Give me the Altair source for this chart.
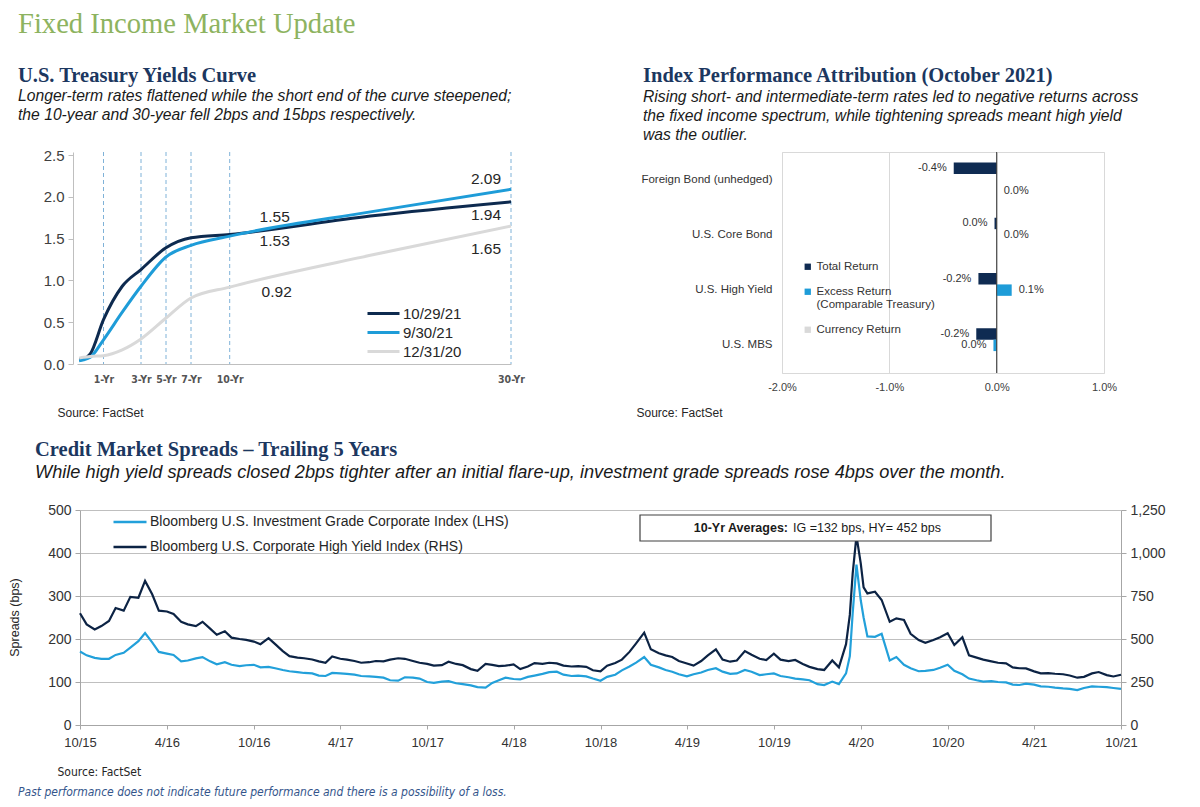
import altair as alt
import pandas as pd

# ================= U.S. Treasury yield curve =================
maturity_years = [0.08, 0.25, 0.5, 1, 2, 3, 5, 7, 10, 20, 30]
yields_oct29_21 = [0.05, 0.06, 0.12, 0.53, 0.93, 1.13, 1.39, 1.51, 1.55, 1.77, 1.94]
yields_sep30_21 = [0.04, 0.05, 0.08, 0.29, 0.62, 0.93, 1.28, 1.42, 1.53, 1.82, 2.09]
yields_dec31_20 = [0.07, 0.08, 0.09, 0.10, 0.17, 0.30, 0.55, 0.79, 0.92, 1.30, 1.65]
curve_names = ["10/29/21", "9/30/21", "12/31/20"]
curve_colors = ["#0d2a4f", "#1e9cd8", "#d9d9d9"]
tenor_ticks = [1, 3, 5, 7, 10, 30]
tenor_labels = ["1-Yr", "3-Yr", "5-Yr", "7-Yr", "10-Yr", "30-Yr"]
yield_ticks = [0.0, 0.5, 1.0, 1.5, 2.0, 2.5]
curve_label_points = [("10/29/21", 10), ("9/30/21", 10), ("12/31/20", 10),
                      ("9/30/21", 30), ("10/29/21", 30), ("12/31/20", 30)]
curve_label_nudges = [(45, -17), (45, 5), (47, 5), (-25, -10), (-25, 13), (-25, 23)]

# ================= Index performance attribution =================
attr_categories = ["Foreign Bond (unhedged)", "U.S. Core Bond", "U.S. High Yield", "U.S. MBS"]
attr_series = ["Total Return", "Excess Return (Comparable Treasury)", "Currency Return"]
attr_colors = ["#0f2b52", "#1e9cd8", "#d9d9d9"]
total_return = [-0.40, -0.02, -0.17, -0.19]
excess_return = [None, 0.00, 0.14, -0.03]
currency_return = [0.00, None, None, None]
attr_ticks = [-2.0, -1.0, 0.0, 1.0]

# ================= Credit spreads (semi-monthly, Oct-2015 .. Oct-2021) =================
IG_NAME = "Bloomberg U.S. Investment Grade Corporate Index (LHS)"
HY_NAME = "Bloomberg U.S. Corporate High Yield Index (RHS)"
ig_bps = [
    171, 162, 156, 154, 154, 163, 168, 180, 195, 214, 192, 170, 166, 163, 148, 150, 155, 158, 148, 141, 146, 140, 137, 139,
    140, 134, 135, 132, 128, 125, 123, 121, 120, 115, 114, 121, 120, 119, 117, 114, 113, 112, 110, 104, 103, 111, 110, 108,
    100, 98, 101, 102, 97, 95, 92, 88, 87, 98, 104, 110, 107, 106, 112, 115, 119, 123, 124, 117, 114, 115, 113, 108,
    103, 112, 117, 127, 136, 145, 158, 140, 134, 128, 124, 118, 113, 118, 122, 128, 132, 124, 119, 120, 128, 124, 116, 118,
    120, 114, 111, 108, 106, 104, 95, 93, 101, 95, 120, 260, 290, 206, 205, 212, 150, 158, 140, 132, 125, 126, 128, 133,
    140, 126, 118, 108, 104, 101, 102, 100, 99, 94, 93, 96, 94, 90, 89, 87, 85, 84, 81, 86, 90, 89, 88, 86,
    84,
]
hy_bps = [
    650, 585, 555, 575, 605, 680, 665, 745, 740, 838, 760, 665, 660, 645, 600, 585, 575, 600, 560, 525, 545, 508, 500, 495,
    485, 470, 505, 470, 430, 400, 392, 388, 381, 370, 362, 398, 385, 380, 372, 362, 365, 372, 370, 380, 388, 385, 372, 362,
    355, 345, 348, 368, 355, 348, 325, 315, 355, 350, 342, 345, 352, 325, 340, 360, 355, 362, 358, 345, 340, 342, 338, 318,
    312, 345, 360, 380, 425, 475, 537, 440, 417, 405, 395, 372, 358, 345, 372, 405, 440, 380, 368, 375, 430, 408, 385, 378,
    415, 380, 372, 378, 355, 338, 325, 320, 375, 335, 470, 880, 940, 765, 775, 727, 600, 620, 611, 530, 494, 478, 494, 510,
    533, 465, 510, 405, 392, 380, 370, 362, 358, 335, 330, 329, 312, 300, 302, 298, 295, 288, 275, 280, 300, 308, 290, 282,
    292,
]
covid_dates = ["2020-03-09", "2020-03-23", "2020-04-07"]
covid_ig_bps = [160, 373, 250]
covid_hy_bps = [640, 1100, 800]
spread_ticks = ["2015-10", "2016-04", "2016-10", "2017-04", "2017-10", "2018-04", "2018-10",
                "2019-04", "2019-10", "2020-04", "2020-10", "2021-04", "2021-10"]
ig_left_ticks = [0, 100, 200, 300, 400, 500]
hy_right_ticks = [0, 250, 500, 750, 1000, 1250]
avg_label_bold = "10-Yr Averages:"
avg_label_rest = "IG =132 bps, HY= 452 bps"
disclaimer = "Past performance does not indicate future performance and there is a possibility of a loss."

SANS = "Liberation Sans"
NARROW = "Liberation Sans Narrow, DejaVu Sans Condensed, Liberation Sans"
SERIF = "Liberation Serif"
NAVY_T = "#1c3760"

# ---------------- tables ----------------
curve_rows = []
for name, vals in zip(curve_names, [yields_oct29_21, yields_sep30_21, yields_dec31_20]):
    for m, v in zip(maturity_years, vals):
        curve_rows.append({"curve": name, "maturity": m, "yield": v})
curve_df = pd.DataFrame(curve_rows)
tenor_df = pd.DataFrame({"tenor": tenor_ticks})


def pct_label(v):
    r = round(v, 1)
    if r == 0:
        r = 0.0
    return f"{r:.1f}%"


attr_rows = []
for s, vals in zip(attr_series, [total_return, excess_return, currency_return]):
    for c, v in zip(attr_categories, vals):
        if v is not None:
            attr_rows.append({"category": c, "series": s, "value": v,
                              "label": pct_label(v), "neg": v < 0})
attr_df = pd.DataFrame(attr_rows)

dates = []
for k in range(len(ig_bps)):
    mi = 9 + k // 2
    dates.append(f"{2015 + mi // 12}-{mi % 12 + 1:02d}-{'01' if k % 2 == 0 else '15'}")
all_dates = dates + covid_dates
spread_df = pd.concat([
    pd.DataFrame({"date": all_dates, "bps": ig_bps + covid_ig_bps, "series": IG_NAME}),
    pd.DataFrame({"date": all_dates, "bps": hy_bps + covid_hy_bps, "series": HY_NAME}),
]).sort_values(["series", "date"]).reset_index(drop=True)
one = pd.DataFrame({"k": [0]})

SUB_SIZE = 15.7
TITLE_SIZE = 20.5

# ================= Chart A =================
xs_curve = alt.Scale(domain=[0, 1, 3, 5, 7, 10, 30], range=[4, 30.5, 68, 93, 118, 156.7, 438],
                     nice=False, zero=False)
ys_curve = alt.Scale(domain=[0, 2.536], nice=False, zero=False)
tenor_expr = " : ".join([f"datum.value == {t} ? '{l}'" for t, l in zip(tenor_ticks, tenor_labels)]) + " : ''"
x_curve_axis = alt.Axis(values=tenor_ticks, labelExpr=tenor_expr, grid=False, ticks=False, tickSize=0,
                        labelFlush=False, domainColor="#bfbfbf", labelFont=NARROW, labelFontSize=10.5,
                        labelFontWeight="bold", labelColor="#555555", labelPadding=10,
                        title="Source: FactSet", titleX=-16, titleY=48, titleAlign="left", titleBaseline="middle",
                        titleFont=SANS, titleFontSize=12, titleFontWeight="normal", titleColor="#262626")
y_curve_axis = alt.Axis(values=yield_ticks, labelExpr="format(datum.value, '.1f')", grid=False, tickSize=5,
                        tickColor="#bfbfbf", domainColor="#bfbfbf", labelFontSize=15, labelColor="#404040",
                        labelPadding=4, title=None)
X_A = alt.X("maturity:Q", scale=xs_curve, axis=x_curve_axis)
Y_A = alt.Y("yield:Q", scale=ys_curve, axis=y_curve_axis)

rules_a = alt.Chart(tenor_df).mark_rule(color="#7fb2d8", strokeDash=[4, 3], strokeWidth=1).encode(
    x=alt.X("tenor:Q", scale=xs_curve, axis=x_curve_axis))
lines_a = alt.Chart(curve_df).mark_line(strokeWidth=3, interpolate="monotone").encode(
    x=X_A, y=Y_A,
    color=alt.Color("curve:N", scale=alt.Scale(domain=curve_names, range=curve_colors),
                    legend=alt.Legend(orient="none", legendX=293, legendY=152, title=None,
                                      symbolType="stroke", symbolSize=1024, symbolStrokeWidth=3,
                                      labelFontSize=15, labelColor="#262626", labelOffset=2,
                                      clipHeight=19, rowPadding=0, padding=0)),
    order=alt.Order("maturity:Q"))
label_layers = []
for (name, ten), (dx, dy) in zip(curve_label_points, curve_label_nudges):
    sub = curve_df[(curve_df.curve == name) & (curve_df.maturity == ten)].copy()
    sub["txt"] = sub["yield"].map(lambda v: f"{v:.2f}")
    label_layers.append(
        alt.Chart(sub).mark_text(dx=dx, dy=dy, fontSize=15.5, color="#262626", align="center",
                                 baseline="middle").encode(x=X_A, y=Y_A, text="txt:N"))

title_a = alt.TitleParams(
    "U.S. Treasury Yields Curve",
    subtitle=["Longer-term rates flattened while the short end of the curve steepened;",
              "the 10-year and 30-year fell 2bps and 15bps respectively."],
    anchor="start", frame="group", dx=-55, offset=25, font=SERIF, fontSize=TITLE_SIZE, fontWeight="bold",
    color=NAVY_T, subtitleFont=SANS, subtitleFontSize=SUB_SIZE, subtitleFontStyle="italic",
    subtitleColor="#1a1a1a", subtitlePadding=3, subtitleLineHeight=19)
chart_a = alt.layer(rules_a, lines_a, *label_layers).properties(width=438, height=212, title=title_a)

# ================= Chart B =================
xs_attr = alt.Scale(domain=[-2, 1], nice=False, zero=False)
x_attr_axis = alt.Axis(values=attr_ticks, grid=True, gridColor="#d9d9d9", ticks=False, tickSize=0, domain=False,
                       labelFlush=False,
                       labelExpr="(datum.value < 0 ? '-' : '') + format(abs(datum.value), '.1f') + '%'",
                       labelFontSize=11, labelColor="#404040", labelPadding=8,
                       title="Source: FactSet", titleX=-146, titleY=39, titleAlign="left", titleBaseline="middle",
                       titleFont=SANS, titleFontSize=12, titleFontWeight="normal", titleColor="#262626")
X_B = alt.X("value:Q", scale=xs_attr, axis=x_attr_axis)
Y_B = alt.Y("category:N", sort=attr_categories,
            scale=alt.Scale(domain=attr_categories, paddingInner=0.38, paddingOuter=0.19),
            axis=alt.Axis(title=None, ticks=False, domain=False, labelFontSize=11.5, labelColor="#333333",
                          labelPadding=10, labelLimit=200))
YO_B = alt.YOffset("series:N", sort=attr_series,
                   scale=alt.Scale(domain=attr_series, paddingInner=0, paddingOuter=0))

bars_b = alt.Chart(attr_df).mark_bar().encode(
    x=X_B, y=Y_B, yOffset=YO_B,
    color=alt.Color("series:N", scale=alt.Scale(domain=attr_series, range=attr_colors),
                    legend=alt.Legend(orient="none", legendX=20, legendY=109, title=None,
                                      symbolType="square", symbolSize=40, symbolStrokeWidth=0,
                                      labelFontSize=11.5, labelColor="#333333", labelOffset=3,
                                      rowPadding=12, padding=0,
                                      labelExpr="datum.label == 'Excess Return (Comparable Treasury)' ? "
                                                "['Excess Return', '(Comparable Treasury)'] : datum.label")))
zero_b = alt.Chart(one).mark_rule(color="#3a3a3a", strokeWidth=1).encode(x=alt.datum(0))
neg_txt = alt.Chart(attr_df).transform_filter("datum.neg").mark_text(
    align="right", baseline="middle", dx=-7, fontSize=11, color="#333333").encode(
    x=X_B, y=Y_B, yOffset=YO_B, text="label:N")
pos_txt = alt.Chart(attr_df).transform_filter("!datum.neg").mark_text(
    align="left", baseline="middle", dx=7, fontSize=11, color="#333333").encode(
    x=X_B, y=Y_B, yOffset=YO_B, text="label:N")
title_b = alt.TitleParams(
    "Index Performance Attribution (October 2021)",
    subtitle=["Rising short- and intermediate-term rates led to negative returns across",
              "the fixed income spectrum, while tightening spreads meant high yield",
              "was the outlier."],
    anchor="start", frame="group", dx=-139, offset=9, font=SERIF, fontSize=TITLE_SIZE, fontWeight="bold",
    color=NAVY_T, subtitleFont=SANS, subtitleFontSize=SUB_SIZE, subtitleFontStyle="italic",
    subtitleColor="#1a1a1a", subtitlePadding=3, subtitleLineHeight=19)
chart_b = alt.layer(bars_b, zero_b, neg_txt, pos_txt).properties(
    width=322, height=221, title=title_b, view=alt.ViewBackground(stroke="#d9d9d9", strokeWidth=1))

# ================= Chart C =================
x_spread = alt.X("date:T",
                 scale=alt.Scale(type="utc", domain=[alt.DateTime(year=2015, month=10, date=1, utc=True),
                                                     alt.DateTime(year=2021, month=10, date=1, utc=True)],
                                 nice=False),
                 axis=alt.Axis(values=[alt.DateTime(year=int(t[:4]), month=int(t[5:]), date=1, utc=True)
                                       for t in spread_ticks],
                               labelExpr="utcFormat(datum.value, '%-m/%y')", grid=False, tickSize=4,
                               labelFlush=False, tickColor="#a6a6a6", domainColor="#a6a6a6", labelFontSize=13,
                               labelColor="#333333", labelPadding=7,
                               title="Source: FactSet", titleX=-23, titleY=46, titleAlign="left",
                               titleBaseline="middle", titleFont=NARROW, titleFontSize=12,
                               titleFontWeight="normal", titleColor="#262626"))
color_c = alt.Color("series:N", scale=alt.Scale(domain=[IG_NAME, HY_NAME], range=["#22a0da", "#0c2344"]),
                    legend=alt.Legend(orient="none", legendX=32, legendY=-6, title=None,
                                      symbolType="stroke", symbolSize=1089, symbolStrokeWidth=2.5,
                                      labelFontSize=14, labelColor="#262626", labelOffset=2,
                                      rowPadding=-3, padding=0, labelLimit=500))
hy_line = alt.Chart(spread_df).transform_filter(alt.datum.series == HY_NAME).mark_line(strokeWidth=2.2).encode(
    x=x_spread,
    y=alt.Y("bps:Q", scale=alt.Scale(domain=[0, 1250], nice=False),
            axis=alt.Axis(orient="right", values=hy_right_ticks, labelExpr="format(datum.value, ',')",
                          grid=False, tickSize=5, tickColor="#a6a6a6", domainColor="#a6a6a6", labelFontSize=14,
                          labelColor="#333333", labelPadding=4, title=None)),
    color=color_c)
ig_line = alt.Chart(spread_df).transform_filter(alt.datum.series == IG_NAME).mark_line(strokeWidth=2.2).encode(
    x=x_spread,
    y=alt.Y("bps:Q", scale=alt.Scale(domain=[0, 500], nice=False),
            axis=alt.Axis(orient="left", values=ig_left_ticks, labelExpr="format(datum.value, 'd')",
                          grid=True, gridColor="#bfbfbf", tickSize=5,
                          tickColor="#a6a6a6", domainColor="#a6a6a6", labelFontSize=14,
                          labelColor="#333333", labelPadding=4,
                          title="Spreads (bps)", titleX=-66, titleY=107, titleAngle=-90, titleAlign="center",
                          titleBaseline="middle", titleFontSize=12.5, titleFontWeight="normal",
                          titleColor="#262626")),
    color=color_c)
box_c = alt.Chart(one).mark_rect(fill="white", stroke="#404040", strokeWidth=1.2).encode(
    x=alt.value(560), x2=alt.value(911), y=alt.value(5), y2=alt.value(31))
box_bold = alt.Chart(one).mark_text(text=avg_label_bold, align="right", baseline="middle", fontWeight="bold",
                                    fontSize=12.5, color="#1a1a1a").encode(x=alt.value(708), y=alt.value(18))
box_rest = alt.Chart(one).mark_text(text=avg_label_rest, align="left", baseline="middle",
                                    fontSize=12.5, color="#1a1a1a").encode(x=alt.value(713), y=alt.value(18))
disc = alt.Chart(one).mark_text(text=disclaimer, align="left", baseline="middle", fontStyle="italic",
                                font=NARROW, fontSize=12, color="#34558b").encode(x=alt.value(-62), y=alt.value(282))
title_c = alt.TitleParams(
    "Credit Market Spreads \u2013 Trailing 5 Years",
    subtitle=["While high yield spreads closed 2bps tighter after an initial flare-up, "
              "investment grade spreads rose 4bps over the month."],
    anchor="start", frame="group", dx=-45, offset=22, font=SERIF, fontSize=TITLE_SIZE, fontWeight="bold",
    color=NAVY_T, subtitleFont=SANS, subtitleFontSize=18.2, subtitleFontStyle="italic",
    subtitleColor="#1a1a1a", subtitlePadding=3, subtitleLineHeight=19)
chart_c = alt.layer(hy_line, ig_line, box_c, box_bold, box_rest, disc).resolve_scale(
    y="independent").properties(width=1041, height=215, title=title_c)

spacer = alt.Chart(one).mark_point(opacity=0).properties(width=7, height=215)

main_title = alt.TitleParams("Fixed Income Market Update", anchor="start", frame="group", dx=-55, offset=27,
                             font=SERIF, fontSize=28.6, fontWeight="normal", color="#8db360")

bottom_row = alt.hconcat(spacer, chart_c, spacing=0, bounds="flush").resolve_scale(color="independent")
left_col = alt.vconcat(chart_a, bottom_row, spacing=146, bounds="flush").resolve_scale(color="independent")
chart = alt.hconcat(left_col, chart_b, spacing=709, bounds="flush").resolve_scale(color="independent").properties(
    title=main_title, padding={"left": 0, "top": 2, "right": 6, "bottom": 6})
chart = chart.configure(font=SANS).configure_view(stroke=None)

chart.save("out.html", embed_options={"renderer": "svg", "actions": False})
